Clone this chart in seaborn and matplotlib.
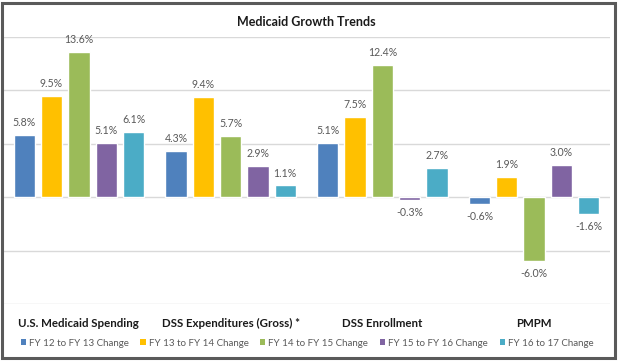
import matplotlib
matplotlib.use("Agg")
import matplotlib.pyplot as plt
import seaborn as sns
import pandas as pd
from matplotlib.patches import Rectangle, Patch

categories = ["U.S. Medicaid Spending", "DSS Expenditures (Gross) *", "DSS Enrollment", "PMPM"]
series = ["FY 12 to FY 13 Change", "FY 13 to FY 14 Change", "FY 14 to FY 15 Change",
          "FY 15 to FY 16 Change", "FY 16 to 17 Change"]
fy12_13 = [5.8, 4.3, 5.1, -0.6]
fy13_14 = [9.5, 9.4, 7.5, 1.9]
fy14_15 = [13.6, 5.7, 12.4, -6.0]
fy15_16 = [5.1, 2.9, -0.3, 3.0]
fy16_17 = [6.1, 1.1, 2.7, -1.6]
colors = ["#4F81BD", "#FFC000", "#9BBB59", "#8064A2", "#4BACC6"]

values = [fy12_13, fy13_14, fy14_15, fy15_16, fy16_17]
rows = []
for s, vals in zip(series, values):
    for c, v in zip(categories, vals):
        rows.append({"category": c, "series": s, "value": v})
df = pd.DataFrame(rows)

sns.set_theme(style="white")
plt.rcParams["font.family"] = ["Lato", "DejaVu Sans"]

fig = plt.figure(figsize=(6.2, 3.61), dpi=100)
ax = fig.add_axes([3/620, (361-304)/361, 607/620, 267/361])

sns.barplot(data=df, x="category", y="value", hue="series", order=categories,
            hue_order=series, palette=colors, width=0.9, gap=0.22, ax=ax,
            legend=False, saturation=1, errorbar=None)

ax.set_ylim(-10, 15)
ax.set_xlim(-0.5, 3.5)
ax.set_yticks([-10, -5, 0, 5, 10, 15])
ax.yaxis.grid(True, color="#D9D9D9", linewidth=1)
ax.set_axisbelow(True)
ax.tick_params(axis="y", left=False, labelleft=False, length=0)
ax.tick_params(axis="x", bottom=False, length=0, pad=10)
for lab in ax.get_xticklabels():
    lab.set_fontweight("bold")
    lab.set_fontsize(8.3)
    lab.set_color("#1a1a1a")
ax.set_xlabel("")
ax.set_ylabel("")
for sp in ax.spines.values():
    sp.set_visible(False)

for cont, vals in zip(ax.containers, values):
    ax.bar_label(cont, labels=[f"{v:.1f}%" for v in vals], padding=5,
                 fontsize=7.6, color="#595959")

fig.text(306/620, 1 - 22/361, "Medicaid Growth Trends", ha="center", va="center",
         fontsize=9, fontweight="bold", color="#1a1a1a")

handles = [Patch(facecolor=c, edgecolor="none") for c in colors]
fig.legend(handles, series, loc="center", bbox_to_anchor=(307/620, 1 - 343/361),
           ncol=5, frameon=False, fontsize=7, handlelength=0.55, handleheight=0.55,
           handletextpad=0.3, columnspacing=1.2, labelcolor="#595959")

fig.patches.append(Rectangle((2/620, 3/361), 613/620, 355/361, transform=fig.transFigure,
                             fill=False, edgecolor="#5a5a5a", linewidth=2.2))

fig.savefig("out.png", dpi=100)
